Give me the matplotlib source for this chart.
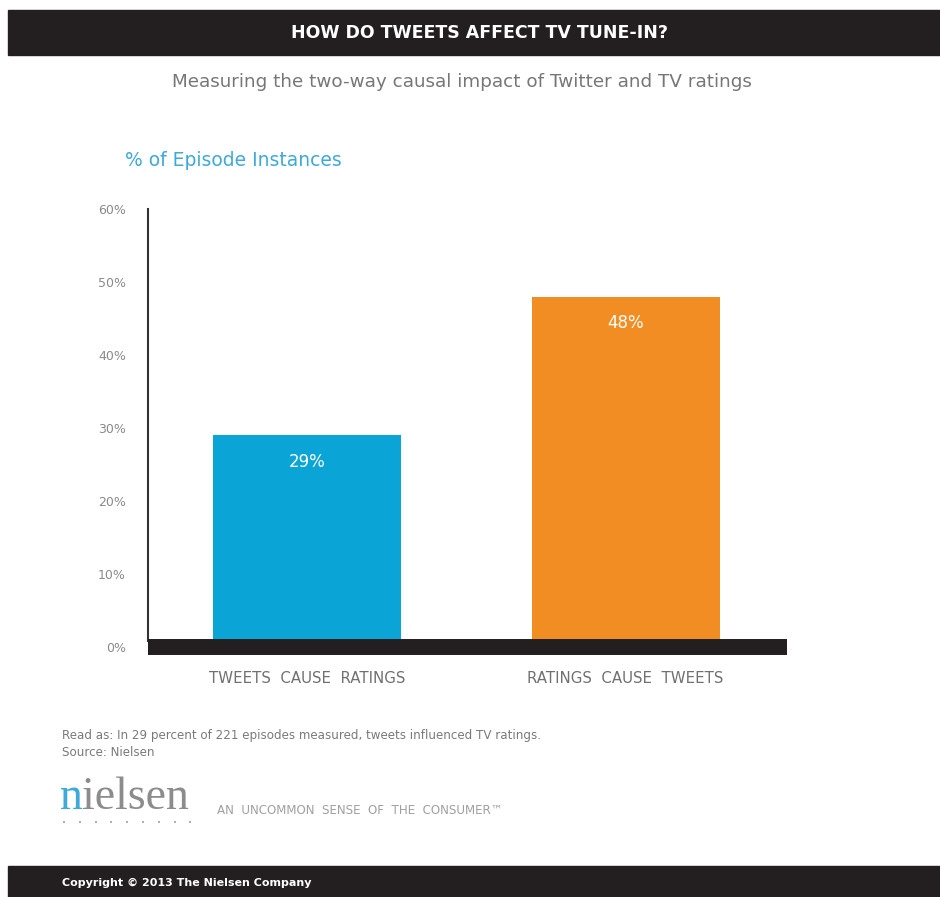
import matplotlib.pyplot as plt
from matplotlib.patches import Rectangle

# chart data
categories = ['TWEETS  CAUSE  RATINGS', 'RATINGS  CAUSE  TWEETS']
values = [29, 48]
bar_colors = ['#0ba4d6', '#f18d22']
y_ticks = [0, 10, 20, 30, 40, 50, 60]
y_tick_labels = ['0%', '10%', '20%', '30%', '40%', '50%', '60%']

title = 'HOW DO TWEETS AFFECT TV TUNE-IN?'
subtitle = 'Measuring the two-way causal impact of Twitter and TV ratings'
axis_title = '% of Episode Instances'
note = 'Read as: In 29 percent of 221 episodes measured, tweets influenced TV ratings.'
source = 'Source: Nielsen'
tagline = 'AN  UNCOMMON  SENSE  OF  THE  CONSUMER\u2122'
copyright_text = 'Copyright \u00a9 2013 The Nielsen Company'

W, H = 940, 897
dark = '#231f20'

fig = plt.figure(figsize=(W / 100, H / 100), dpi=100)
fig.patch.set_facecolor('white')


def fx(px):
    return px / W


def fy(py):
    return 1 - py / H


# header and footer bars
fig.patches.append(Rectangle((fx(8), fy(55)), fx(932), (55 - 10) / H,
                             transform=fig.transFigure, color=dark, zorder=0))
fig.patches.append(Rectangle((fx(8), fy(897)), fx(932), (897 - 866) / H,
                             transform=fig.transFigure, color=dark, zorder=0))

fig.text(fx(480), fy(33), title, color='white', fontsize=12.5, fontweight='bold',
         ha='center', va='center', family='DejaVu Sans Condensed')
fig.text(fx(462), fy(82), subtitle, color='#777777', fontsize=13.2,
         ha='center', va='center', family='DejaVu Sans')
fig.text(fx(125), fy(160), axis_title, color='#3fa9da', fontsize=13.5,
         ha='left', va='center', family='DejaVu Sans')

# main axes
ax = fig.add_axes([fx(148), fy(647), fx(787 - 148), (647 - 209) / H])
x = list(range(len(categories)))
ax.bar(x, values, width=0.59, color=bar_colors, zorder=2)
ax.set_xlim(-0.5, 1.507)
ax.set_ylim(0, 60)
ax.axhline(0, color=dark, linewidth=11.5, zorder=3, solid_capstyle='butt', clip_on=False)

for xi, v in zip(x, values):
    ax.text(xi, v - 3.6, f'{v}%', color='white', fontsize=12, ha='center',
            va='center', family='DejaVu Sans Condensed')

ax.set_yticks(y_ticks)
ax.set_yticklabels(y_tick_labels, color='#8a8a8a', fontsize=9, family='DejaVu Sans Condensed')
ax.tick_params(axis='y', length=0, pad=16)
ax.set_xticks(x)
ax.set_xticklabels(categories, color='#707070', fontsize=10.8, family='DejaVu Sans Condensed')
ax.tick_params(axis='x', length=0, pad=17)

for side in ['top', 'right', 'bottom']:
    ax.spines[side].set_visible(False)
ax.spines['left'].set_color('#333333')
ax.spines['left'].set_linewidth(1.5)
ax.spines['left'].set_bounds(0.8, 60)
ax.set_facecolor('none')

# notes
fig.text(fx(62), fy(735), note, color='#7a7a7a', fontsize=8.6, ha='left', va='center',
         family='DejaVu Sans Condensed')
fig.text(fx(62), fy(752), source, color='#7a7a7a', fontsize=8.6, ha='left', va='center',
         family='DejaVu Sans Condensed')

# logo
fig.text(fx(60), fy(798), 'n', color='#3fa9da', fontsize=33, ha='left', va='center',
         family='Liberation Serif')
fig.text(fx(82), fy(798), 'ielsen', color='#8c8c8c', fontsize=33, ha='left', va='center',
         family='Liberation Serif')
for i in range(9):
    fig.text(fx(64 + i * 15.8), fy(823), '\u2022', color='#9a9a9a', fontsize=5,
             ha='center', va='center')
fig.text(fx(217), fy(810), tagline, color='#a0a0a0', fontsize=8.6, ha='left', va='center',
         family='DejaVu Sans')

fig.text(fx(62), fy(883), copyright_text, color='white', fontsize=8, fontweight='bold',
         ha='left', va='center', family='DejaVu Sans Condensed')

fig.savefig('out.png', dpi=100, facecolor='white')
